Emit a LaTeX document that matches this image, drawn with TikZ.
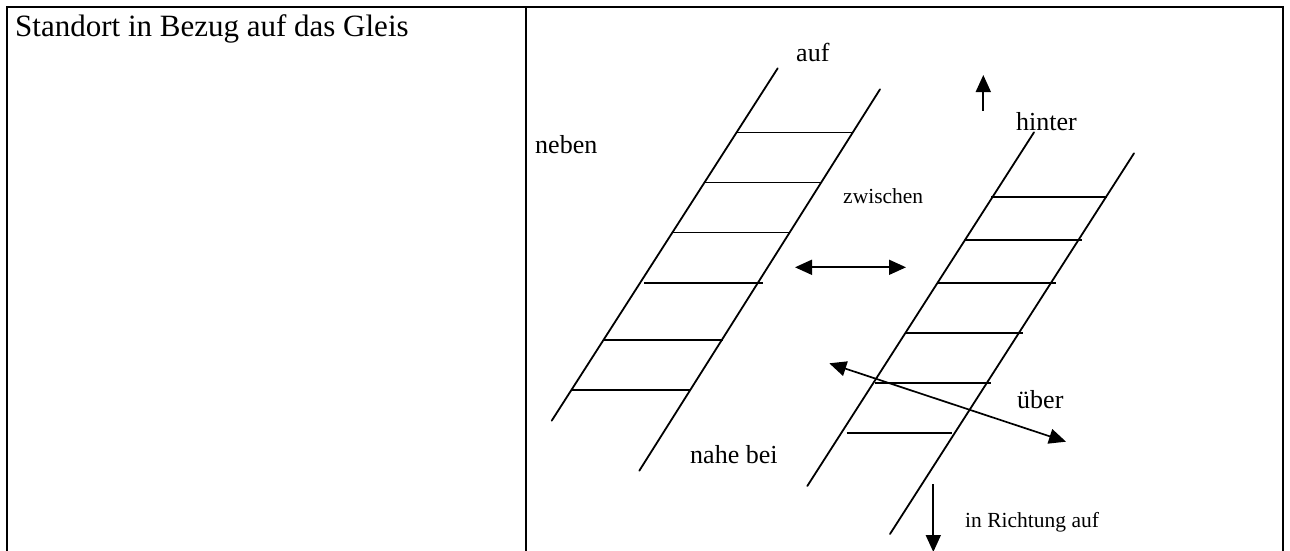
\documentclass[tikz,border=0pt]{standalone}
\usepackage{fontspec}
\setmainfont{Liberation Serif}
\usetikzlibrary{arrows.meta}
\begin{document}
\begin{tikzpicture}[x=1pt,y=-1pt,
  frame/.style={line width=2pt},
  rail/.style={line width=1.8pt, line cap=round},
  rung/.style={line width=1.6pt},
  lbl/.style={anchor=base west, inner sep=0pt, font=\fontsize{26}{30}\selectfont},
  smalllbl/.style={anchor=base west, inner sep=0pt, font=\fontsize{21.5}{26}\selectfont},
  tip/.tip={Triangle[length=17pt,width=15pt]},
  arr/.style={line width=1.7pt, -tip},
  darr/.style={line width=1.7pt, tip-tip}]

\useasboundingbox (0,0) rectangle (1290,551);

% table frame
\draw[frame] (6.7,551) -- (6.7,6.7) -- (1282.7,6.7) -- (1282.7,551);
\draw[frame] (526,6.7) -- (526,551);

\node[anchor=base west, inner sep=0pt, font=\fontsize{31}{36}\selectfont] (title) at (15,37) {Standort in Bezug auf das Gleis};

% first track
\draw[rail] (777.7,68.3) -- (551.7,420.7);
\draw[rail] (880,89.3) -- (639.3,470.7);
\draw[rung] (737,132.3) -- (852.5,132.3);
\draw[rung] (705,182.6) -- (821,182.6);
\draw[rung] (672.3,232.5) -- (790,232.5);
\draw[rung] (644,282.7) -- (762.7,282.7);
\draw[rung] (604.3,340) -- (722.7,340);
\draw[rung] (571.7,390) -- (690.7,390);

% second track
\draw[rail] (1034,132.3) -- (807.3,486);
\draw[rail] (1134,153.3) -- (890,534);
\draw[rung] (991,196.7) -- (1106.7,196.7);
\draw[rung] (965,240) -- (1081.7,240);
\draw[rung] (938.3,282.7) -- (1056,282.7);
\draw[rung] (905.7,332.7) -- (1023.3,332.7);
\draw[rung] (875,382.7) -- (990.7,382.7);
\draw[rung] (846.7,433) -- (951.7,433);

% labels
\node[lbl] (auf) at (796,62) {auf};
\node[lbl] (neben) at (535,153) {neben};
\node[smalllbl] (zwischen) at (843,203) {zwischen};
\node[lbl] (hinter) at (1016,130) {hinter};
\node[lbl] (nahe) at (690,463) {nahe bei};
\node[lbl] (ueber) at (1017,408) {über};
\node[smalllbl] (richtung) at (965,527.5) {in Richtung auf};

% arrows
\coordinate (zwA) at (795,267.3);
\coordinate (zwB) at (906,267.3);
\draw[darr] (zwA) -- (zwB);

\coordinate (ubA) at (829.3,363.3);
\coordinate (ubB) at (1066,441.7);
\draw[darr] (ubA) -- (ubB);

\coordinate (hiA) at (983.3,110.7);
\coordinate (hiB) at (983.3,75);
\draw[arr] (hiA) -- (hiB);

\coordinate (riA) at (933.3,484);
\coordinate (riB) at (933.3,552);
\draw[arr] (riA) -- (riB);
\end{tikzpicture}
\end{document}
